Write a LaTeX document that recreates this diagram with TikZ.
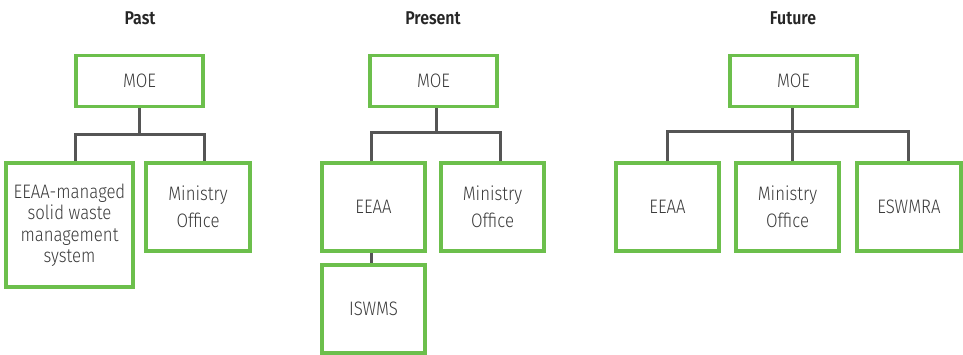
\documentclass[tikz,border=0pt]{standalone}
\usepackage{fontspec}
\setmainfont{Fira Sans}[FakeStretch=0.86, UprightFont=* Light, BoldFont=* SemiBold]
\definecolor{boxgreen}{HTML}{6CBF4C}
\definecolor{linegray}{HTML}{555555}
\definecolor{txtgray}{HTML}{3A3A3A}
\begin{document}
\begin{tikzpicture}[x=1pt,y=-1pt,
  orgbox/.style={draw=boxgreen, line width=3.2pt, fill=white, text=txtgray,
    font=\fontsize{19.5}{21.5}\selectfont, align=center, inner sep=0pt},
  widelead/.style={font=\fontsize{19.5}{26.5}\selectfont},
  title/.style={font=\fontsize{18.5}{21}\selectfont\bfseries, text=black!85},
  link/.style={draw=linegray, line width=3pt}]
\useasboundingbox (0,0) rectangle (963,354);
% ---------- Past ----------
\node[title] (t1) at (140,18) {Past};
\node[orgbox, minimum width=127pt, minimum height=51pt] (p0) at (139.5,81) {MOE};
\node[orgbox, minimum width=127pt, minimum height=124pt] (p1) at (69.5,225) {EEAA-managed\\solid waste\\management\\system};
\node[orgbox, widelead, minimum width=104pt, minimum height=88pt] (p2) at (198,207) {Ministry\\Office};
\coordinate (pb) at (139.5,134);
\draw[link] (p0.south) -- (pb);
\draw[link] (p1.north -| 75,0) |- (pb) -| (p2.north -| 204,0);
% ---------- Present ----------
\node[title] (t2) at (433,18) {Present};
\node[orgbox, minimum width=127pt, minimum height=51pt] (q0) at (433.5,81) {MOE};
\node[orgbox, minimum width=103pt, minimum height=88pt] (q1) at (373.5,207) {EEAA};
\node[orgbox, widelead, minimum width=103pt, minimum height=88pt] (q2) at (492.5,207) {Ministry\\Office};
\node[orgbox, minimum width=103pt, minimum height=88pt] (q3) at (373.5,309) {ISWMS};
\coordinate (qb) at (436,132);
\draw[link] (q0.south -| 436,0) -- (qb);
\draw[link] (q1.north -| 371,0) |- (qb) -| (q2.north -| 500,0);
\draw[link] (q1.south -| 371,0) -- (q3.north -| 371,0);
% ---------- Future ----------
\node[title] (t3) at (793,18) {Future};
\node[orgbox, minimum width=127pt, minimum height=51pt] (r0) at (793.5,81) {MOE};
\node[orgbox, minimum width=103pt, minimum height=88pt] (r1) at (667.5,207) {EEAA};
\node[orgbox, widelead, minimum width=103pt, minimum height=88pt] (r2) at (787.5,207) {Ministry\\Office};
\node[orgbox, minimum width=104pt, minimum height=88pt] (r3) at (909,207) {ESWMRA};
\coordinate (rb) at (792,131);
\draw[link] (r0.south -| 792,0) -- (r2.north -| 792,0);
\draw[link] (r1.north -| 667,0) |- (rb) -| (r3.north -| 908,0);
\end{tikzpicture}
\end{document}
